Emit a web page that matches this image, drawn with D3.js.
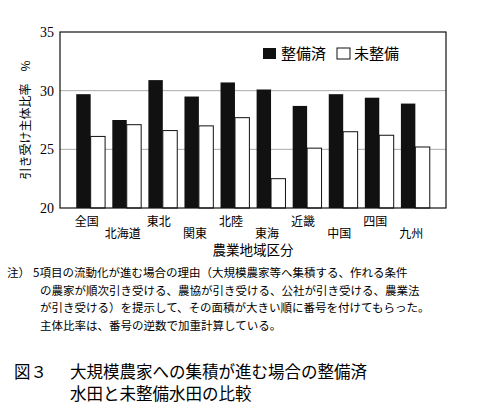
<!DOCTYPE html>
<html><head><meta charset="utf-8">
<script src="https://cdn.jsdelivr.net/npm/d3@7"></script>
<style>body{margin:0;background:#fff;font-family:"Noto Sans CJK JP",sans-serif;}</style>
</head><body>
<svg id="chart" width="495" height="420"></svg>
<script>
// data
var regions = ["全国","北海道","東北","関東","北陸","東海","近畿","中国","四国","九州"];
var seitei = [29.7, 27.5, 30.9, 29.5, 30.7, 30.1, 28.7, 29.7, 29.4, 28.9];
var miseibi = [26.1, 27.1, 26.6, 27.0, 27.7, 22.5, 25.1, 26.5, 26.2, 25.2];
var yTicks = [20, 25, 30, 35];
var notes = [
  "5項目の流動化が進む場合の理由（大規模農家等へ集積する、作れる条件",
  "の農家が順次引き受ける、農協が引き受ける、公社が引き受ける、農業法",
  "が引き受ける）を提示して、その面積が大きい順に番号を付けてもらった。",
  "主体比率は、番号の逆数で加重計算している。"
];

var svg = d3.select("#chart");
var font = "Noto Sans CJK JP";
var x = d3.scaleBand().domain(regions).range([60, 446]).paddingInner(0.2).paddingOuter(0.45);
var y = d3.scaleLinear().domain([20, 35]).range([208, 32]);

// gridlines
svg.selectAll(".grid").data([25, 30]).enter().append("line")
  .attr("x1", 60).attr("x2", 446).attr("y1", y).attr("y2", y)
  .attr("stroke", "#aaa").attr("stroke-width", 1);

// bars
var half = x.bandwidth() / 2;
svg.selectAll(".dark").data(regions).enter().append("rect")
  .attr("x", function(d) { return x(d); })
  .attr("y", function(d, i) { return y(seitei[i]); })
  .attr("width", half)
  .attr("height", function(d, i) { return y(20) - y(seitei[i]); })
  .attr("fill", "#111");
svg.selectAll(".light").data(regions).enter().append("rect")
  .attr("x", function(d) { return x(d) + half; })
  .attr("y", function(d, i) { return y(miseibi[i]); })
  .attr("width", half)
  .attr("height", function(d, i) { return y(20) - y(miseibi[i]); })
  .attr("fill", "#fff").attr("stroke", "#111").attr("stroke-width", 1);

// frame
svg.append("rect").attr("x", 60).attr("y", 32).attr("width", 386).attr("height", 176)
  .attr("fill", "none").attr("stroke", "#111").attr("stroke-width", 1.2);

// y ticks
svg.selectAll(".yt").data(yTicks).enter().append("text")
  .attr("x", 54).attr("y", function(d) { return y(d) + 5; })
  .attr("text-anchor", "end").attr("font-family", "Liberation Serif").attr("font-size", 14)
  .text(function(d) { return d; });

svg.append("text").attr("transform", "translate(30,120) rotate(-90)")
  .attr("text-anchor", "middle").attr("font-family", font).attr("font-size", 12)
  .text("引き受け主体比率　%");

// x labels, staggered
svg.selectAll(".xl").data(regions).enter().append("text")
  .attr("x", function(d) { return x(d) + x.bandwidth() / 2 - 4; })
  .attr("y", function(d, i) { return i % 2 ? 238 : 226; })
  .attr("text-anchor", "middle").attr("font-family", font).attr("font-size", 12)
  .text(function(d) { return d; });
svg.append("text").attr("x", 253).attr("y", 255).attr("text-anchor", "middle")
  .attr("font-family", font).attr("font-size", 13.5).text("農業地域区分");

// legend
svg.append("rect").attr("x", 263).attr("y", 48).attr("width", 13).attr("height", 11).attr("fill", "#111");
svg.append("text").attr("x", 281).attr("y", 59).attr("font-family", font).attr("font-size", 15).text("整備済");
svg.append("rect").attr("x", 337).attr("y", 48).attr("width", 13).attr("height", 11)
  .attr("fill", "#fff").attr("stroke", "#111");
svg.append("text").attr("x", 354).attr("y", 59).attr("font-family", font).attr("font-size", 15).text("未整備");

// notes
svg.append("text").attr("x", 7).attr("y", 277).attr("font-family", font).attr("font-size", 11.5).text("注）");
svg.selectAll(".note").data(notes).enter().append("text")
  .attr("x", function(d, i) { return i ? 40 : 33; })
  .attr("y", function(d, i) { return 277 + i * 17.5; })
  .attr("font-family", font).attr("font-size", 11.5)
  .text(function(d) { return d; });

// caption
svg.append("text").attr("x", 14).attr("y", 378).attr("font-family", font).attr("font-size", 16.5).text("図３");
svg.append("text").attr("x", 70).attr("y", 378).attr("font-family", font).attr("font-size", 16.5).text("大規模農家への集積が進む場合の整備済");
svg.append("text").attr("x", 70).attr("y", 400).attr("font-family", font).attr("font-size", 16.5).text("水田と未整備水田の比較");
</script>
</body></html>
